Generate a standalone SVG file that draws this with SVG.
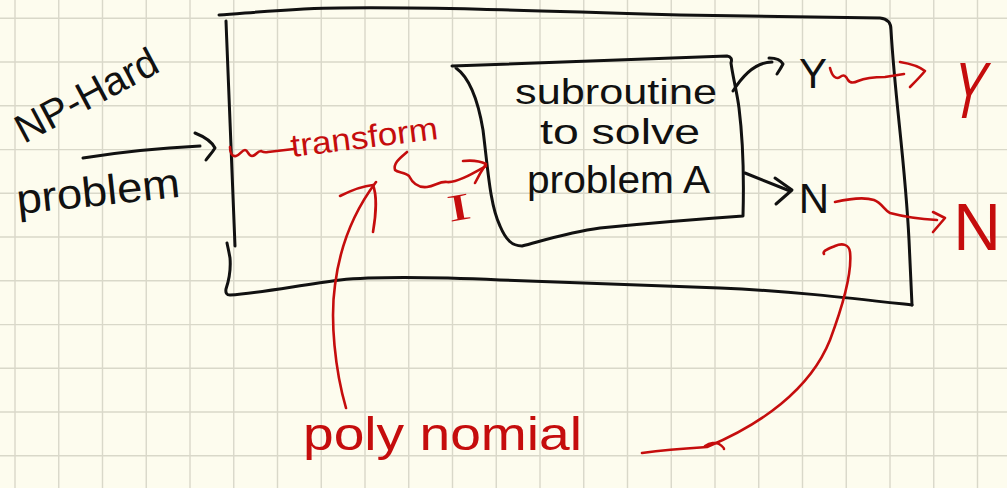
<svg xmlns="http://www.w3.org/2000/svg" width="1007" height="488" viewBox="0 0 1007 488">
  <style>
    .grid { stroke: #d9d8c9; stroke-width: 1.4; }
    .ink { fill: none; stroke: #111; stroke-width: 3; stroke-linecap: round; stroke-linejoin: round; }
    .red { fill: none; stroke: #c50d0d; stroke-width: 2.6; stroke-linecap: round; stroke-linejoin: round; }
    .tk { font-family: "Liberation Sans", "DejaVu Sans", sans-serif; fill: #111; }
    .tr { font-family: "Liberation Sans", "DejaVu Sans", sans-serif; fill: #c50d0d; }
  </style>
  <rect width="1007" height="488" fill="#fdfcee"/>
  <g id="grid" class="grid">
    <path d="M15,0V488M58.75,0V488M102.5,0V488M146.25,0V488M190,0V488M233.75,0V488M277.5,0V488M321.25,0V488M365,0V488M408.75,0V488M452.5,0V488M496.25,0V488M540,0V488M583.75,0V488M627.5,0V488M671.25,0V488M715,0V488M758.75,0V488M802.5,0V488M846.25,0V488M890,0V488M933.75,0V488M977.5,0V488"/>
    <path d="M0,18.3H1007M0,62H1007M0,105.8H1007M0,149.6H1007M0,193.3H1007M0,237H1007M0,280.8H1007M0,324.6H1007M0,368.3H1007M0,412H1007M0,455.8H1007"/>
  </g>

  <g id="node-reduction-box">
    <path class="ink" d="M219,15 C260,12 300,8 340,8 C420,7 520,10 680,15 L880,18 Q891,19 891,30 C895,100 905,160 909,240 L912,305"/>
    <path class="ink" d="M912,305 C850,298 790,291 720,288 L500,280 C430,277 380,276 340,280 C300,285 260,293 230,295 Q225,295 226,289 C228,283 231,270 230,258 C229,252 228,248 227,243"/>
    <path class="ink" d="M226,21 C229,100 233,180 235,246"/>
    <text class="tk" font-size="40" textLength="156" lengthAdjust="spacingAndGlyphs" transform="translate(24,144) rotate(-28)">NP-Hard</text>
  </g>

  <g id="node-subroutine">
    <path class="ink" d="M452,66 C560,62 650,58 727,56 Q733,57 731,63 C733,78 737,92 739,108 C743,140 744,180 743,216 C700,219 650,223 600,228 C570,232 545,240 522,246 C512,246 506,240 500,226 C490,205 488,170 483,130 C478,100 470,78 456,68"/>
    <text class="tk" font-size="35" x="515" y="104" textLength="202" lengthAdjust="spacingAndGlyphs">subroutine</text>
    <text class="tk" font-size="35" x="540" y="144" textLength="160" lengthAdjust="spacingAndGlyphs">to solve</text>
    <text class="tk" font-size="38" x="527" y="193" textLength="183" lengthAdjust="spacingAndGlyphs">problem A</text>
  </g>

  <g id="node-problem">
    <text class="tk" font-size="42" textLength="164" lengthAdjust="spacingAndGlyphs" transform="translate(18,214) rotate(-6)">problem</text>
  </g>

  <g id="node-yes">
    <text class="tk" font-size="42" x="813" y="88" text-anchor="middle">Y</text>
  </g>
  <g id="node-no">
    <text class="tk" font-size="42" x="814" y="213" text-anchor="middle">N</text>
  </g>
  <g id="node-yes-out">
    <text class="tr" font-size="80" text-anchor="middle" transform="translate(964,118) skewX(-12) scale(0.62,1)">Y</text>
  </g>
  <g id="node-no-out">
    <text class="tr" font-size="66" x="977" y="250" text-anchor="middle">N</text>
  </g>
  <g id="node-transform">
    <text class="tr" font-size="32" textLength="148" lengthAdjust="spacingAndGlyphs" transform="translate(292,157) rotate(-7)">transform</text>
  </g>
  <g id="node-instance">
    <text font-family="Liberation Serif, serif" fill="#c50d0d" font-size="38" text-anchor="middle" transform="translate(461,220) rotate(-10) scale(1.9,1)">I</text>
  </g>
  <g id="node-polynomial">
    <text class="tr" font-size="46" x="303" y="450" textLength="279" lengthAdjust="spacingAndGlyphs">poly nomial</text>
  </g>

  <g id="connectors">
    <path class="ink" d="M83,158 C120,152 160,148 200,146"/>
    <path class="ink" d="M195,133 C205,137 212,142 215,148 C212,153 208,157 206,160"/>
    <path class="red" d="M230,147 C230,153 232,157 236,156 C240,155 242,150 245,150 C248,150 248,156 252,156 C256,156 257,151 261,151 C263,152 264,153 268,152 L294,149"/>
    <path class="red" d="M407,152 C400,158 393,163 395,170 C398,173 405,172 409,176 C412,182 418,188 427,187 C435,186 440,181 447,182 C456,183 470,175 486,166"/>
    <path class="red" d="M463,161 C472,160 480,161 486,164 C482,170 478,177 475,183"/>
    <path class="red" d="M346,408 C335,370 330,320 335,285 C340,245 355,210 376,182"/>
    <path class="red" d="M340,196 C352,190 362,186 373,185 C377,195 376,215 373,232"/>
    <path class="red" d="M642,453 C670,449 690,448 707,447 C760,425 810,390 830,340 C845,300 852,270 850,252 C849,244 842,243 835,246 C828,249 822,251 824,254"/>
    <path class="red" d="M705,446 C710,443 716,442 719,444 C722,446 724,448 724,449"/>
    <path class="ink" d="M733,91 C745,72 758,62 772,62"/>
    <path class="ink" d="M769,58 C776,58 781,60 783,64 C781,68 779,71 777,74"/>
    <path class="ink" d="M745,173 L790,191"/>
    <path class="ink" d="M775,178 L792,190 L776,204"/>
    <path class="red" d="M830,68 C832,76 836,80 840,77 C844,74 846,76 848,80 C850,83 854,83 858,81 C865,78 875,77 885,77 L904,74"/>
    <path class="red" d="M900,62 C912,64 920,67 925,71 C920,77 915,82 910,87"/>
    <path class="red" d="M835,202 C848,199 865,197 874,200 C882,203 884,210 890,213 C905,217 920,219 937,220"/>
    <path class="red" d="M933,212 L945,218 L933,232"/>
  </g>
</svg>
